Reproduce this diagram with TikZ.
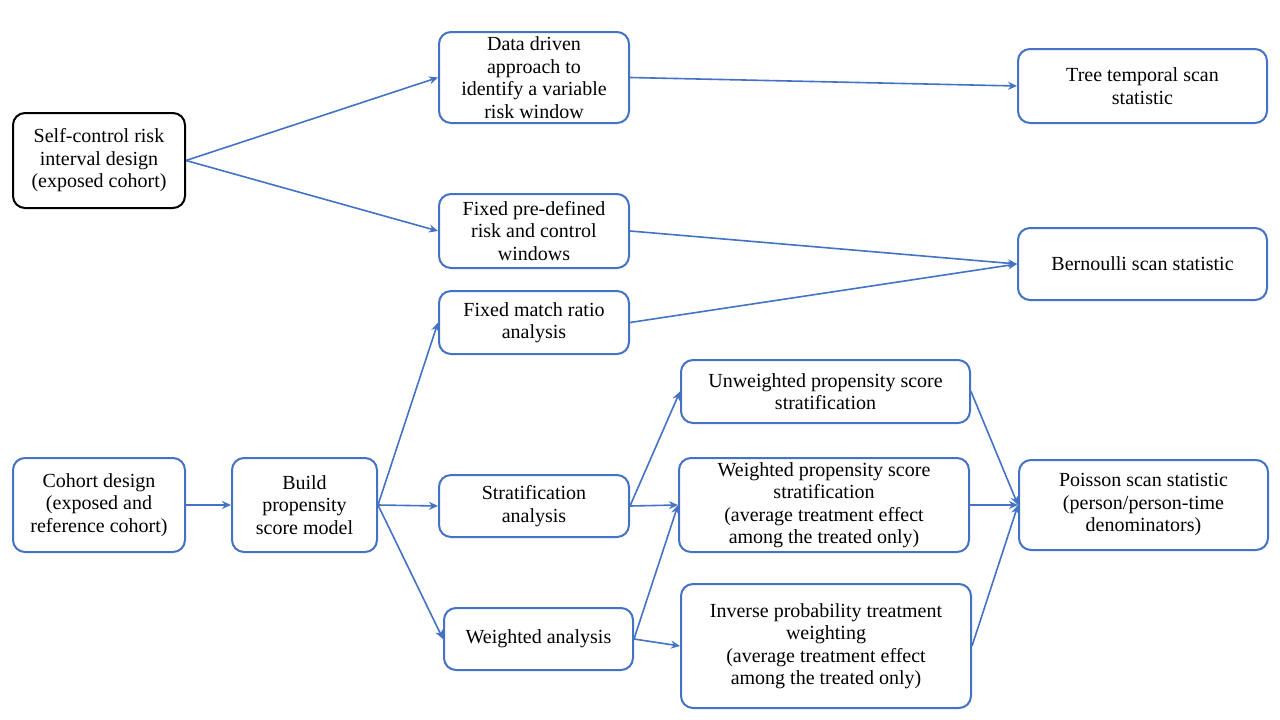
\documentclass[tikz,border=0pt]{standalone}
\usepackage{fontspec}
\setmainfont{Liberation Serif}
\usetikzlibrary{arrows.meta}
\definecolor{bl}{HTML}{4472C4}
\begin{document}
\begin{tikzpicture}[x=1pt,y=-1pt,
  box/.style={draw=bl,line width=2pt,rounded corners=12pt,align=center,
    font=\fontsize{20}{22.5}\selectfont,inner sep=0pt},
  conn/.style={draw=bl,line width=1.6pt,-{Stealth[length=9pt,width=8pt]}}]
\useasboundingbox (0,0) rectangle (1280,720);
\fill[white] (0,0) rectangle (1280,720);
\newcommand{\bx}[7]{\node[box,#7,minimum width=#4pt,minimum height=#5pt] (#1) at (#2,#3) {#6};}
\bx{self}{99}{160.5}{172}{95}{Self-control risk\\interval design\\(exposed cohort)}{draw=black}
\bx{data}{534}{77.5}{190}{91}{Data driven\\approach to\\identify a variable\\risk window}{}
\bx{tree}{1142.5}{86}{249}{74}{Tree temporal scan\\statistic}{}
\bx{fpre}{534}{231}{190}{74}{Fixed pre-defined\\risk and control\\windows}{}
\bx{bern}{1142.5}{264}{249}{72}{Bernoulli scan statistic}{}
\bx{fmr}{534}{322.5}{190}{63}{Fixed match ratio\\analysis}{}
\bx{unw}{825.5}{391.5}{289}{63}{Unweighted propensity score\\stratification}{}
\bx{coh}{99}{505}{172}{94}{Cohort design\\(exposed and\\reference cohort)}{}
\bx{build}{304.5}{505}{145}{94}{Build\\propensity\\score model}{}
\bx{strat}{534}{506}{190}{62}{Stratification\\analysis}{}
\bx{wps}{824}{505}{290}{94}{Weighted propensity score\\stratification\\(average treatment effect\\among the treated only)}{}
\bx{pois}{1143.5}{505}{249}{90}{Poisson scan statistic\\(person/person-time\\denominators)}{}
\bx{wan}{538.5}{639}{189}{62}{Weighted analysis}{}
\bx{iptw}{826}{646}{290}{124}{Inverse probability treatment\\weighting\\(average treatment effect\\among the treated only)}{}
\draw[conn] (self.east) -- (data.west);
\draw[conn] (self.east) -- (fpre.west);
\draw[conn] (data.east) -- (tree.west);
\draw[conn] (fpre.east) -- (bern.west);
\draw[conn] (fmr.east) -- (bern.west);
\draw[conn] (coh.east) -- (build.west);
\draw[conn] (build.east) -- (fmr.west);
\draw[conn] (build.east) -- (strat.west);
\draw[conn] (build.east) -- (wan.west);
\draw[conn] (strat.east) -- (unw.west);
\draw[conn] (strat.east) -- (wps.west);
\draw[conn] (wan.east) -- (wps.west);
\draw[conn] (wan.east) -- (iptw.west);
\draw[conn] (unw.east) -- (pois.west);
\draw[conn] (wps.east) -- (pois.west);
\draw[conn] (iptw.east) -- (pois.west);
\end{tikzpicture}
\end{document}
